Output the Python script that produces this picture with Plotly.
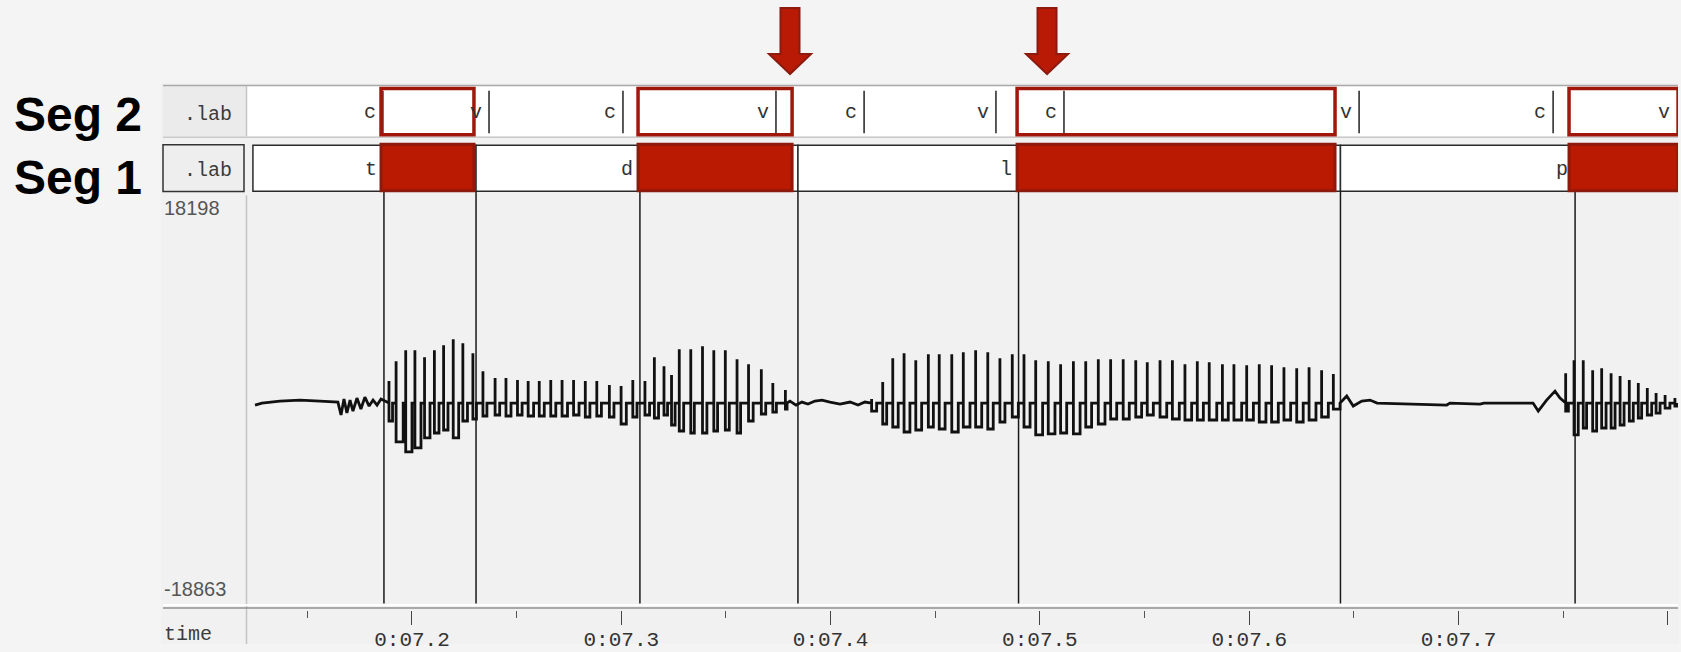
import plotly.graph_objects as go

W, H = 1681, 652


def px(x):
    return x / W


def py(y):
    return 1 - y / H


# ------------------------------------------------------------------ data
x_range = [7.12117, 7.80487]
tick_vals = [7.2, 7.3, 7.4, 7.5, 7.6, 7.7, 7.8]
tick_text = ["0:07.2", "0:07.3", "0:07.4", "0:07.5", "0:07.6", "0:07.7", "0:07.8"]
minor_vals = [7.15, 7.25, 7.35, 7.45, 7.55, 7.65, 7.75]
amp_max, amp_min = 18198, -18863

# Seg 1 tier (boundary = end time of each label)
seg1_start = 7.1240
seg1_bounds = [7.1866, 7.2306, 7.3089, 7.3844, 7.4898, 7.6436, 7.7557, 7.8045]
seg1_labels = ["t", "", "d", "", "l", "", "p", ""]

# Seg 2 tier
seg2_bounds = [7.1861, 7.2368, 7.3008, 7.3739, 7.4160, 7.4790, 7.5115, 7.6525, 7.7452, 7.8045]
seg2_labels = ["c", "v", "c", "v", "c", "v", "c", "v", "c", "v"]

# highlighted intervals
hl_start = [7.1852, 7.3080, 7.4891, 7.7528]
hl_end = [7.2296, 7.3816, 7.6410, 7.8049]

# arrows
arrow_t = [7.3806, 7.5034]

# low-level noise stretches (time s, amplitude)
noise1_t = [7.1250, 7.1283, 7.1369, 7.1465, 7.1560, 7.1646, 7.1661, 7.1675, 7.1689, 7.1704,
            7.1718, 7.1737, 7.1756, 7.1775, 7.1795, 7.1814, 7.1833, 7.1852]
noise1_a = [-200, 0, 200, 300, 200, 100, -1200, 400, -1000, 300,
            -800, 500, -600, 600, -300, 300, -200, 400]
noise2_t = [7.3806, 7.3835, 7.3863, 7.3892, 7.3925, 7.3959, 7.3997, 7.4045, 7.4093, 7.4131, 7.4164]
noise2_a = [200, -200, 100, -100, 200, 300, 100, -100, 100, -200, 100]
noise3_t = [7.6466, 7.6497, 7.6538, 7.6577, 7.6611, 7.6944, 7.6959, 7.7103, 7.7122, 7.7356,
            7.7381, 7.7421, 7.7461, 7.7485]
noise3_a = [700, -300, 200, 300, 0, -200, 0, -100, 0, 0,
            -800, 300, 1200, 500]

# glottal pulses: peak time, peak amplitude, trough end time, trough amplitude
pulse_t = [
    7.1890, 7.1924, 7.1970, 7.2014, 7.2060, 7.2107, 7.2151, 7.2197, 7.2243, 7.2291,
    7.2339, 7.2397, 7.2449, 7.2504, 7.2555, 7.2608, 7.2663, 7.2717, 7.2772, 7.2828,
    7.2883, 7.2943, 7.2999, 7.3055,
    7.3113, 7.3158, 7.3204, 7.3240, 7.3277, 7.3332, 7.3388, 7.3442, 7.3497, 7.3553,
    7.3608, 7.3669, 7.3724, 7.3784,
    7.4196, 7.4249, 7.4297, 7.4351, 7.4407, 7.4467, 7.4519, 7.4579, 7.4634, 7.4693,
    7.4751, 7.4809, 7.4868, 7.4924, 7.4980, 7.5040, 7.5099, 7.5160, 7.5219, 7.5279,
    7.5338, 7.5398, 7.5458, 7.5513, 7.5574, 7.5633, 7.5693, 7.5752, 7.5809, 7.5872,
    7.5927, 7.5988, 7.6048, 7.6107, 7.6166, 7.6227, 7.6286, 7.6346, 7.6402,
    7.7512, 7.7552, 7.7596, 7.7641, 7.7684, 7.7729, 7.7772, 7.7816, 7.7859, 7.7902,
    7.7944, 7.7987, 7.8034,
]
pulse_peak = [
    2200, 4200, 5300, 5300, 4600, 5300, 5800, 6400, 6000, 5000,
    3200, 2500, 2500, 2300, 2200, 2200, 2300, 2300, 2300, 2200,
    2200, 1800, 1700, 2300,
    2200, 4600, 3700, 2800, 5400, 5400, 5700, 5300, 5300, 4400,
    3900, 3400, 2000, 1300,
    400, 2100, 4500, 5000, 4300, 4900, 4900, 4900, 5100, 5300,
    5100, 4500, 4900, 4900, 4300, 4200, 3900, 4200, 4200, 4400,
    4400, 4400, 4300, 4100, 4300, 4300, 3900, 4200, 4100, 3900,
    3900, 3800, 3900, 3800, 3600, 3500, 3600, 3300, 2900,
    3000, 4300, 4300, 3300, 3500, 3000, 2700, 2300, 2000, 1500,
    1000, 800, 500,
]
trough_t = [
    7.1907, 7.1958, 7.2000, 7.2043, 7.2086, 7.2129, 7.2172, 7.2223, 7.2265, 7.2308,
    7.2358, 7.2419, 7.2473, 7.2526, 7.2581, 7.2632, 7.2687, 7.2743, 7.2798, 7.2850,
    7.2905, 7.2965, 7.3024, 7.3075,
    7.3135, 7.3178, 7.3221, 7.3257, 7.3298, 7.3349, 7.3409, 7.3460, 7.3516, 7.3570,
    7.3630, 7.3690, 7.3741, 7.3792,
    7.4220, 7.4268, 7.4323, 7.4379, 7.4435, 7.4491, 7.4547, 7.4610, 7.4666, 7.4722,
    7.4777, 7.4833, 7.4897, 7.4953, 7.5013, 7.5072, 7.5128, 7.5192, 7.5247, 7.5311,
    7.5367, 7.5427, 7.5486, 7.5542, 7.5606, 7.5666, 7.5725, 7.5781, 7.5845, 7.5900,
    7.5964, 7.6020, 7.6080, 7.6139, 7.6198, 7.6258, 7.6319, 7.6378, 7.6434,
    7.7525, 7.7572, 7.7612, 7.7660, 7.7705, 7.7748, 7.7791, 7.7835, 7.7875, 7.7923,
    7.7963, 7.8010, 7.8044,
]
pulse_trough = [
    -1800, -3900, -4900, -4500, -3500, -3000, -2700, -3500, -1800, -1600,
    -1300, -1200, -1300, -1200, -1300, -1300, -1300, -1300, -1200, -1400,
    -1300, -1400, -2100, -1400,
    -1200, -1500, -1200, -2200, -2800, -3000, -3000, -2800, -2700, -3000,
    -1800, -1100, -900, -600,
    -800, -2100, -2400, -2900, -2700, -2400, -2600, -2900, -2400, -2400,
    -2600, -1900, -1400, -2400, -3200, -3100, -3000, -3100, -2400, -2100,
    -1600, -1600, -1400, -1200, -1400, -1600, -1700, -1700, -1700, -1700,
    -1700, -1700, -1900, -1900, -1700, -1900, -1700, -1400, -600,
    -800, -3200, -2500, -2800, -2500, -2500, -2200, -1800, -1500, -1200,
    -1000, -500, -300,
]

# ------------------------------------------------------------------ waveform polyline
events = []
k = 0
for t, a in zip(noise1_t + noise2_t + noise3_t, noise1_a + noise2_a + noise3_a):
    events.append((t, k, a)); k += 1
for tp, hi, tt, lo in zip(pulse_t, pulse_peak, trough_t, pulse_trough):
    for t, a in ((tp, 0), (tp, hi), (tp, lo), (tt, lo), (tt, 0)):
        events.append((t, k, a)); k += 1
events.sort(key=lambda e: (e[0], e[1]))
wave_x = [e[0] for e in events]
wave_y = [e[2] for e in events]

fig = go.Figure()
fig.add_trace(go.Scatter(x=wave_x, y=wave_y, mode="lines",
                         line=dict(color="#111111", width=2.8),
                         hoverinfo="skip", showlegend=False))

shapes = []
ann = []
MONO = "Liberation Mono, Courier New, monospace"
SANS = "Liberation Sans, Arial, sans-serif"

# ---- frame / panels
shapes.append(dict(type="rect", xref="paper", yref="paper", x0=px(161), x1=px(1679), y0=py(652), y1=py(84),
                   fillcolor="#F1F1F1", line=dict(width=0), layer="below"))
# seg 2 row
shapes.append(dict(type="rect", xref="paper", yref="paper", x0=px(163), x1=px(246), y0=py(138), y1=py(87),
                   fillcolor="#EBEBEB", line=dict(width=0), layer="below"))
shapes.append(dict(type="rect", xref="paper", yref="paper", x0=px(247), x1=px(1678), y0=py(138), y1=py(87),
                   fillcolor="#FFFFFF", line=dict(width=0), layer="below"))
shapes.append(dict(type="line", xref="paper", yref="paper", x0=px(163), x1=px(1678), y0=py(86.5), y1=py(86.5),
                   line=dict(color="#A9A9A9", width=1.5), layer="below"))
shapes.append(dict(type="line", xref="paper", yref="paper", x0=px(163), x1=px(1678), y0=py(139), y1=py(139),
                   line=dict(color="#C9C9C9", width=1.5), layer="below"))
# seg 1 left cell
shapes.append(dict(type="rect", xref="paper", yref="paper", x0=px(163), x1=px(244), y0=py(194), y1=py(146.5),
                   fillcolor="#EEEEEE", line=dict(color="#333333", width=1.5), layer="below"))
# dividers
for y0, y1 in ((87, 138), (198, 652)):
    shapes.append(dict(type="line", xref="paper", yref="paper", x0=px(246.5), x1=px(246.5), y0=py(y1), y1=py(y0),
                       line=dict(color="#C4C4C4", width=1.5), layer="below"))
# time row separators
shapes.append(dict(type="line", xref="paper", yref="paper", x0=px(163), x1=px(1678), y0=py(612.5), y1=py(612.5),
                   line=dict(color="#FFFFFF", width=2), layer="below"))
shapes.append(dict(type="line", xref="paper", yref="paper", x0=px(163), x1=px(1678), y0=py(615.5), y1=py(615.5),
                   line=dict(color="#8F8F8F", width=1.5), layer="below"))

# ---- seg 1 boxes
starts = [seg1_start] + seg1_bounds[:-1]
for s, e, lab in zip(starts, seg1_bounds, seg1_labels):
    shapes.append(dict(type="rect", xref="x", yref="paper", x0=s, x1=e, y0=py(193.5), y1=py(147),
                       fillcolor="#FFFFFF", line=dict(color="#2A2A2A", width=1.5), layer="below"))
    if lab:
        ann.append(dict(x=e, y=py(172), xref="x", yref="paper", text=lab, showarrow=False,
                        xanchor="right", yanchor="middle", xshift=-5,
                        font=dict(family=MONO, size=20, color="#333333")))

# ---- seg 2 boundary ticks + labels
for b, lab in zip(seg2_bounds, seg2_labels):
    if b < x_range[1] - 0.002:
        shapes.append(dict(type="line", xref="x", yref="paper", x0=b, x1=b, y0=py(135), y1=py(92),
                           line=dict(color="#222222", width=1.5), layer="below"))
    ann.append(dict(x=b, y=py(114), xref="x", yref="paper", text=lab, showarrow=False,
                    xanchor="right", yanchor="middle", xshift=-5,
                    font=dict(family=MONO, size=20, color="#333333")))

# ---- boundary lines through the waveform
for b in seg1_bounds[:-1]:
    shapes.append(dict(type="line", xref="x", yref="paper", x0=b, x1=b, y0=py(611), y1=py(194),
                       line=dict(color="#1A1A1A", width=1.5), layer="below"))

# ---- highlights
for s, e in zip(hl_start, hl_end):
    shapes.append(dict(type="rect", xref="x", yref="paper", x0=s, x1=e, y0=py(136.5), y1=py(89.5),
                       fillcolor="rgba(0,0,0,0)", line=dict(color="#A0180B", width=3.5), layer="above"))
    shapes.append(dict(type="rect", xref="x", yref="paper", x0=s, x1=e, y0=py(193), y1=py(146),
                       fillcolor="#BA1A02", line=dict(color="#8E1A0D", width=3), layer="above"))

# ---- arrows
for t in arrow_t:
    shapes.append(dict(type="path", xref="x", yref="paper", xsizemode="pixel", ysizemode="pixel",
                       xanchor=t, yanchor=py(75),
                       path="M 0 0 L -21 20 L -9.5 20 L -9.5 66 L 9.5 66 L 9.5 20 L 21 20 Z",
                       fillcolor="#B81A06", line=dict(color="#8C1A0E", width=2), layer="above"))

# ---- text
ann.append(dict(x=px(12), y=py(116), xref="paper", yref="paper", text="<b>Seg 2</b>", showarrow=False,
                xanchor="left", yanchor="middle", font=dict(family=SANS, size=48, color="#000000")))
ann.append(dict(x=px(12), y=py(180), xref="paper", yref="paper", text="<b>Seg 1</b>", showarrow=False,
                xanchor="left", yanchor="middle", font=dict(family=SANS, size=48, color="#000000")))
for yy in (116, 173):
    ann.append(dict(x=px(234), y=py(yy), xref="paper", yref="paper", text=".lab", showarrow=False,
                    xanchor="right", yanchor="middle", font=dict(family=MONO, size=20, color="#3C3C3C")))
ann.append(dict(x=px(162), y=py(642), xref="paper", yref="paper", text="time", showarrow=False,
                xanchor="left", yanchor="middle", font=dict(family=MONO, size=20, color="#3C3C3C")))
for v, yy in ((amp_max, 211), (amp_min, 596)):
    ann.append(dict(x=px(162), y=py(yy), xref="paper", yref="paper", text=str(v), showarrow=False,
                    xanchor="left", yanchor="middle",
                    font=dict(family=SANS, size=20, color="#555555")))

fig.update_layout(
    width=W, height=H,
    margin=dict(l=0, r=0, t=0, b=0),
    paper_bgcolor="#F4F4F4",
    plot_bgcolor="rgba(0,0,0,0)",
    showlegend=False,
    shapes=shapes,
    annotations=ann,
    xaxis=dict(domain=[px(247), px(1678)], range=x_range, anchor="free", position=py(618),
               showgrid=False, zeroline=False, showline=False,
               tickmode="array", tickvals=tick_vals, ticktext=tick_text,
               ticks="outside", ticklen=14, tickwidth=1.2, tickcolor="#444444",
               ticklabelstandoff=-5,
               tickfont=dict(family=MONO, size=21, color="#333333"),
               minor=dict(tickmode="array", tickvals=minor_vals, ticks="outside", ticklen=7,
                          tickwidth=1.2, tickcolor="#555555", showgrid=False)),
    yaxis=dict(domain=[py(606), py(198)], range=[-19600, 20800], anchor="free", position=px(247),
               showgrid=False, zeroline=False, showline=False, showticklabels=False, ticks=""),
)

fig.write_html(
    "out.html",
    config={"displayModeBar": False},
    post_script="document.body.style.margin='0';document.body.style.background='#F4F4F4';",
)
